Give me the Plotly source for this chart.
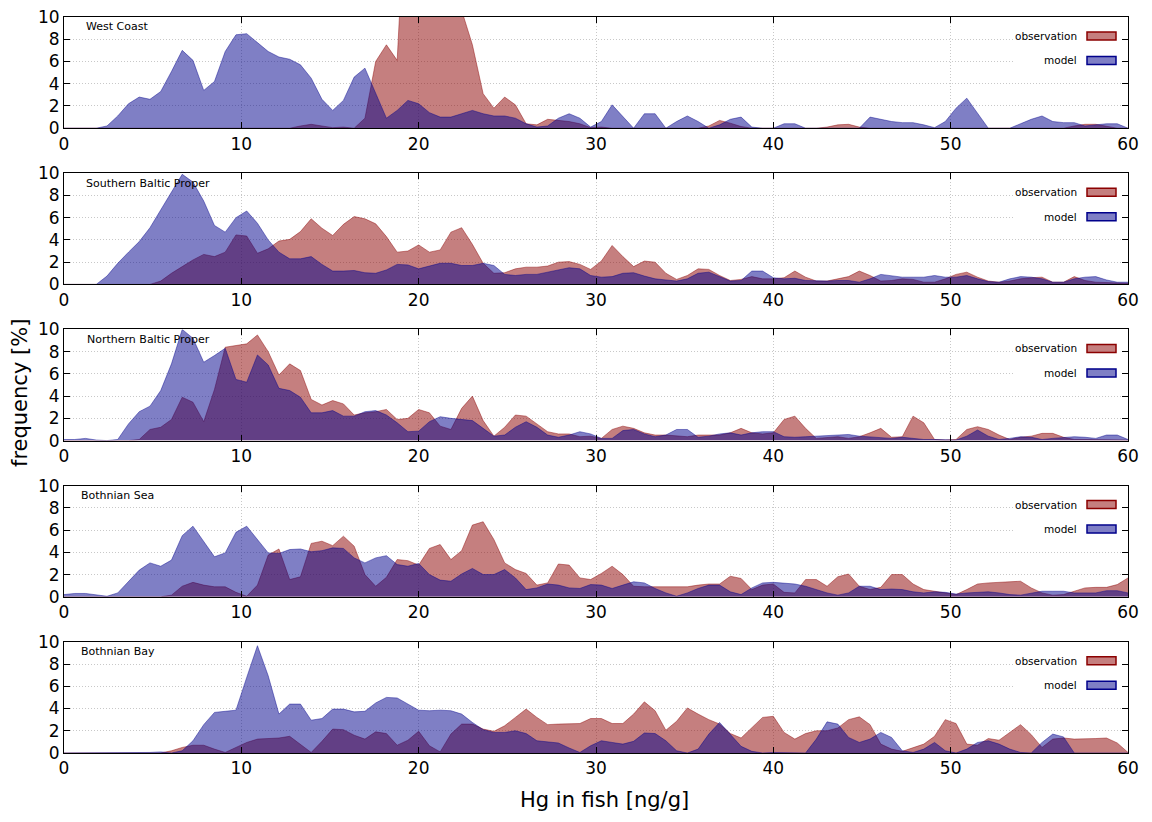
import numpy as np
import plotly.graph_objects as go
from plotly.subplots import make_subplots

# Hg bins (100 points from 0 to 60 ng/g)
hg = np.linspace(0, 60, 100)

regions = ["West Coast", "Southern Baltic Proper", "Northern Baltic Proper",
           "Bothnian Sea", "Bothnian Bay"]

wc_obs = [0,0,0,0,0,0,0,0,0,0,
          0,0,0,0,0,0,0,0,0,0,
          0,0,0.2,0.35,0.2,0.05,0.1,0,0.9,6.0,
          7.5,6.1,25,20,18,17,13.6,10.6,7.5,3.1,
          1.8,2.8,2.1,0.4,0.3,0.8,0.7,0.6,0.4,0.05,
          0.1,0,0,0,0,0,0,0,0,0,
          0.2,0.7,0.45,0.15,0,0,0,0,0,0,
          0,0.1,0.3,0.35,0.1,0,0,0,0,0,
          0,0,0,0,0,0,0,0,0,0,
          0,0,0,0,0.2,0.35,0.35,0.15,0,0]
wc_mod = [0,0,0,0,0.2,1.1,2.2,2.8,2.6,3.3,
          5.1,7.0,6.1,3.4,4.2,6.9,8.4,8.5,7.7,6.9,
          6.4,6.2,5.7,4.5,2.6,1.6,2.5,4.6,5.4,3.1,
          0.9,1.6,2.5,2.2,1.4,1.0,1.0,1.3,1.6,1.3,
          1.1,1.1,0.9,0.4,0.1,0.2,0.9,1.3,0.9,0.1,
          0.6,2.1,1.0,0,1.3,1.3,0,0.6,1.1,0.6,
          0,0.3,0.8,1.0,0.1,0,0,0.4,0.4,0,
          0,0,0,0,0,1.0,0.8,0.6,0.5,0.5,
          0.3,0.05,0.6,1.8,2.7,1.3,0,0,0,0.4,
          0.8,1.1,0.6,0.5,0.5,0.2,0.3,0.4,0.4,0]

sbp_obs = [0,0,0,0,0,0,0,0,0,0.3,
           1.0,1.6,2.2,2.7,2.5,2.9,4.45,4.35,2.8,3.2,
           3.9,4.05,4.75,5.9,5.05,4.4,5.4,6.1,5.9,5.45,
           4.3,2.9,3.0,3.55,2.9,3.1,4.7,5.1,3.6,1.9,
           1.0,1.05,1.4,1.55,1.55,1.65,2.0,2.05,1.8,1.35,
           2.1,3.5,2.5,1.6,2.1,2.0,1.0,0.45,0.8,1.4,
           1.35,0.8,0.35,0.45,0.7,0.5,0.5,0.6,1.2,0.65,
           0.3,0.3,0.5,0.7,1.2,0.8,0.3,0.35,0.5,0.45,
           0.2,0.2,0.5,0.9,1.1,0.65,0.3,0.2,0.3,0.5,
           0.6,0.65,0.2,0.2,0.7,0.35,0.2,0.15,0.1,0.1]
sbp_mod = [0,0,0,0,0.75,1.9,2.9,3.85,5.1,6.7,
           8.4,9.9,9.2,7.5,5.3,4.7,6.0,6.6,5.5,4.0,
           2.9,2.3,2.3,2.5,1.8,1.2,1.2,1.25,1.05,1.0,
           1.3,1.8,1.75,1.4,1.65,1.9,1.9,1.7,1.7,1.9,
           1.7,0.9,0.8,0.9,0.9,1.1,1.3,1.5,1.4,0.8,
           0.65,0.7,1.0,1.05,0.75,0.5,0.4,0.3,0.5,1.0,
           1.1,0.7,0.3,0.35,1.2,1.2,0.6,0.5,0.55,0.35,
           0.3,0.3,0.35,0.35,0.2,0.5,0.9,0.8,0.65,0.65,
           0.65,0.8,0.65,0.65,0.8,0.5,0.25,0.2,0.5,0.7,
           0.65,0.5,0.2,0.2,0.5,0.65,0.7,0.4,0.2,0.2]

nbp_obs = [0,0,0,0,0,0,0,0.1,1.0,1.2,
           1.9,3.9,3.45,1.7,4.6,8.4,8.55,8.7,9.5,8.0,
           5.9,6.9,6.3,3.7,3.2,3.6,3.3,2.3,2.5,2.6,
           2.8,1.9,2.0,2.8,2.5,1.3,1.0,2.9,4.0,1.8,
           0.4,1.2,2.3,2.2,1.5,0.8,0.6,0.6,0.35,0.4,
           0.2,1.0,1.3,1.1,0.7,0.5,0.5,0.4,0.35,0.5,
           0.5,0.5,0.7,1.1,0.7,0.6,0.7,1.9,2.2,1.1,
           0.2,0.3,0.35,0.2,0.35,0.7,1.1,0.3,0.35,2.2,
           1.6,0.1,0.05,0.1,1.0,1.25,1.0,0.5,0.1,0.3,
           0.4,0.65,0.65,0.3,0.1,0.1,0.1,0.1,0.05,0.05]
nbp_mod = [0.1,0.1,0.2,0.05,0,0.1,1.5,2.6,3.1,4.5,
           6.9,10.0,9.2,7.05,7.65,8.3,5.5,5.25,7.7,6.8,
           4.7,4.5,3.9,2.5,2.5,2.7,2.2,2.2,2.6,2.7,
           2.3,1.6,0.8,0.85,1.7,2.15,2.0,1.9,1.8,1.1,
           0.4,0.5,1.2,1.7,1.2,0.5,0.3,0.5,0.8,0.6,
           0.2,0.2,0.9,1.0,0.6,0.35,0.5,1.0,1.0,0.3,
           0.4,0.6,0.7,0.5,0.7,0.8,0.8,0.35,0.3,0.35,
           0.4,0.4,0.5,0.55,0.4,0.35,0.3,0.2,0.3,0.2,
           0.1,0.1,0.1,0.05,0.4,0.95,0.4,0.1,0.2,0.35,
           0.3,0.1,0.2,0.3,0.35,0.3,0.2,0.5,0.5,0.1]

bs_obs = [0,0,0,0,0,0,0,0,0,0,
          0.15,0.95,1.3,1.05,0.9,0.9,0.4,0.05,1.05,3.75,
          4.3,1.55,1.8,4.8,5.0,4.6,5.45,4.55,2.0,0.95,
          1.75,3.35,3.25,2.85,4.35,4.7,3.35,4.15,6.45,6.75,
          5.15,3.05,2.45,2.1,1.05,1.25,2.95,2.85,1.7,1.55,
          2.1,2.75,2.0,0.95,0.9,0.9,0.9,0.9,0.9,1.05,
          1.15,1.15,1.85,1.65,0.65,1.05,1.15,0.4,0.35,1.55,
          1.55,0.95,1.8,2.05,0.95,0.65,0.85,2.0,2.0,1.15,
          0.65,0.5,0.35,0.2,0.65,1.15,1.25,1.3,1.3,1.4,
          0.8,0.35,0.15,0.2,0.5,0.8,0.85,0.85,1.1,1.7]
bs_mod = [0.2,0.3,0.3,0.15,0.05,0.35,1.4,2.4,3.05,2.75,
          3.3,5.5,6.35,4.95,3.6,3.95,5.8,6.35,5.15,3.95,
          3.9,4.25,4.3,4.05,4.15,4.4,4.35,3.5,3.05,3.5,
          3.7,2.9,2.75,3.0,2.0,1.5,1.4,2.05,2.55,2.0,
          2.0,2.45,1.7,0.65,0.8,1.15,1.05,0.8,0.75,1.1,
          1.05,0.75,1.05,1.35,1.25,0.75,0.35,0.05,0.35,0.75,
          1.05,1.05,0.45,0.2,0.8,1.25,1.3,1.25,1.15,0.95,
          0.65,0.35,0.15,0.35,0.95,0.95,0.65,0.7,0.65,0.45,
          0.35,0.45,0.4,0.25,0.35,0.4,0.45,0.35,0.2,0.15,
          0.35,0.5,0.5,0.5,0.35,0.35,0.35,0.55,0.55,0.35]

bb_obs = [0,0,0,0,0,0,0,0,0,0,
          0.2,0.5,0.7,0.7,0.35,0.05,0.5,0.95,1.25,1.3,
          1.35,1.5,0.8,0.05,1.05,2.15,2.1,1.6,1.25,1.9,
          1.75,0.7,1.15,1.95,0.65,0.1,1.7,2.6,2.6,2.15,
          1.95,2.45,3.2,3.95,3.2,2.55,2.6,2.6,2.65,3.1,
          3.1,2.65,2.65,3.5,4.6,3.8,2.05,2.85,4.05,3.5,
          3.0,2.6,1.75,1.35,2.3,3.2,3.3,1.85,1.25,1.75,
          2.0,2.0,2.25,3.0,3.25,2.55,0.8,0.35,0.15,0.5,
          0.8,1.5,3.0,2.65,0.8,0.7,1.3,1.15,1.85,2.55,
          1.65,0.5,1.25,1.35,1.25,1.25,1.3,1.35,0.9,0.05]
bb_mod = [0,0,0,0,0,0,0,0,0.05,0.1,
          0,0.2,1.1,2.55,3.65,3.75,3.85,6.8,9.65,6.95,
          3.5,4.4,4.4,2.95,3.1,3.95,3.95,3.7,3.75,4.5,
          5.0,4.95,4.4,3.85,3.8,3.85,3.8,3.5,2.75,2.1,
          1.85,1.85,2.0,1.75,1.1,1.0,0.9,0.45,0.05,0.65,
          1.1,0.95,0.8,1.05,1.8,1.75,1.1,0.2,0,0.35,
          1.7,2.75,1.7,0.6,0.15,0,0.05,0.05,0,0,
          1.25,2.8,2.6,1.4,0.95,1.25,1.85,1.4,0.2,0.05,
          0.35,0.95,0.2,0,0.35,0.95,1.1,0.8,0.35,0.05,
          0,0.95,1.7,1.45,0,0,0,0,0,0]

obs_series = [wc_obs, sbp_obs, nbp_obs, bs_obs, bb_obs]
mod_series = [wc_mod, sbp_mod, nbp_mod, bs_mod, bb_mod]

x_ticks = [0, 10, 20, 30, 40, 50, 60]
y_ticks = [0, 2, 4, 6, 8, 10]

OBS_FILL = "rgba(139,0,0,0.5)"
MOD_FILL = "rgba(0,0,139,0.5)"
FONT = "DejaVu Sans"

W, H = 1152, 822
ML, MR, MT, MB = 64, 24, 17, 69
plot_h = H - MT - MB
gap = 45
panel_h = (plot_h - 4 * gap) / 5
plot_w = W - ML - MR

fig = make_subplots(rows=5, cols=1, vertical_spacing=gap / plot_h)

for i in range(5):
    r = i + 1
    fig.add_trace(go.Scatter(x=hg, y=obs_series[i], mode="lines", fill="tozeroy",
                             fillcolor=OBS_FILL,
                             line=dict(color="rgba(139,0,0,0.55)", width=0.8),
                             showlegend=False, hoverinfo="skip"), row=r, col=1)
    fig.add_trace(go.Scatter(x=hg, y=mod_series[i], mode="lines", fill="tozeroy",
                             fillcolor=MOD_FILL,
                             line=dict(color="rgba(0,0,139,0.55)", width=0.8),
                             showlegend=False, hoverinfo="skip"), row=r, col=1)

axis_common = dict(showline=True, linecolor="black", linewidth=1, mirror="ticks",
                   ticks="inside", ticklen=6, tickcolor="black", tickwidth=1,
                   showgrid=True, gridcolor="#c8c8c8", griddash="1px,2px", gridwidth=1,
                   zeroline=False, automargin=False,
                   tickfont=dict(family=FONT, size=17, color="black"))

for i in range(5):
    r = i + 1
    fig.update_xaxes(range=[0, 60], tickvals=x_ticks, **axis_common, row=r, col=1)
    fig.update_yaxes(range=[0, 10], tickvals=y_ticks, **axis_common, row=r, col=1)

title_x_px = [84, 84, 85, 79, 79]
shapes = []
annotations = []
for i in range(5):
    sfx = "" if i == 0 else str(i + 1)
    xr = f"x{sfx} domain"
    yr = f"y{sfx} domain"
    # panel name
    annotations.append(dict(text=regions[i], xref=xr, yref=yr,
                            x=(title_x_px[i] - ML) / plot_w, y=1 - 10 / panel_h,
                            xanchor="left", yanchor="middle", showarrow=False,
                            font=dict(family=FONT, size=11, color="black")))
    # opaque key background
    shapes.append(dict(type="rect", xref=xr, yref=yr,
                       x0=(1013 - ML) / plot_w, x1=(1121 - ML) / plot_w,
                       y0=1 - 52 / panel_h, y1=1 - 1.5 / panel_h,
                       fillcolor="white", line=dict(width=0), layer="above"))
    # key entries
    for j, (lab, fc, lc) in enumerate([("observation", OBS_FILL, "#8b0000"),
                                        ("model", MOD_FILL, "#00008b")]):
        cy = 19 + 24.5 * j
        annotations.append(dict(text=lab, xref=xr, yref=yr,
                                x=(1079 - ML) / plot_w, y=1 - cy / panel_h,
                                xanchor="right", yanchor="middle", showarrow=False,
                                font=dict(family=FONT, size=10.5, color="black")))
        shapes.append(dict(type="rect", xref=xr, yref=yr,
                           x0=(1087 - ML) / plot_w, x1=(1116 - ML) / plot_w,
                           y0=1 - (cy + 4) / panel_h, y1=1 - (cy - 4) / panel_h,
                           fillcolor=fc, line=dict(color=lc, width=1.5), layer="above"))

annotations.append(dict(text="frequency [%]", xref="paper", yref="paper",
                        x=0, xshift=-(ML - 20), y=(H - MB - 393) / plot_h,
                        xanchor="center", yanchor="middle", textangle=-90,
                        showarrow=False, font=dict(family=FONT, size=21, color="black")))
annotations.append(dict(text="Hg in fish [ng/g]", xref="paper", yref="paper",
                        x=0.5, xshift=8, y=0, yshift=-47, xanchor="center", yanchor="middle",
                        showarrow=False, font=dict(family=FONT, size=21, color="black")))

fig.update_layout(width=W, height=H, margin=dict(l=ML, r=MR, t=MT, b=MB),
                  plot_bgcolor="white", paper_bgcolor="white",
                  font=dict(family=FONT, color="black"),
                  shapes=shapes, annotations=annotations, showlegend=False)

fig.write_html("out.html", config={"displayModeBar": False},
               post_script="document.body.style.margin='0px';"
                           "document.body.style.overflow='hidden';")
